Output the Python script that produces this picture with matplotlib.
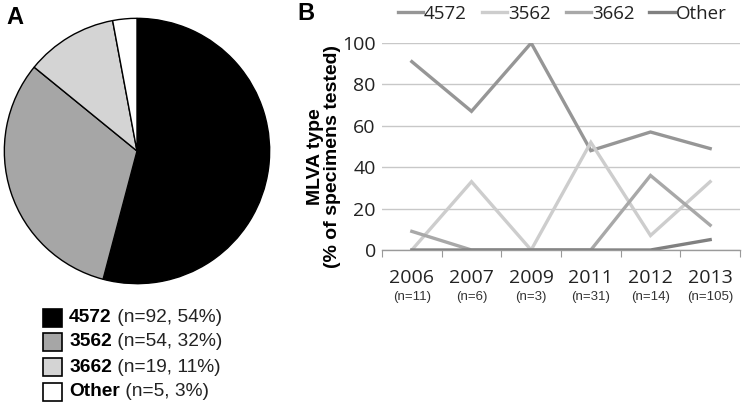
import matplotlib
matplotlib.use("Agg")
import matplotlib.pyplot as plt
from matplotlib.patches import Rectangle

# panel A data
types = ["4572", "3562", "3662", "Other"]
counts = [92, 54, 19, 5]
shares = [54, 32, 11, 3]
pie_colors = ["#000000", "#a6a6a6", "#d4d4d4", "#ffffff"]

# panel B data
years = ["2006", "2007", "2009", "2011", "2012", "2013"]
n_tested = [11, 6, 3, 31, 14, 105]
pct_4572 = [91, 67, 100, 48, 57, 49]
pct_3562 = [0, 33, 0, 52, 7, 33]
pct_3662 = [9, 0, 0, 0, 36, 12]
pct_other = [0, 0, 0, 0, 0, 5]
line_colors = ["#969696", "#cdcdcd", "#a8a8a8", "#808080"]

W, H = 742, 408
fig = plt.figure(figsize=(W / 100, H / 100), dpi=100)


def box(l, t, w, h):
    return [l / W, 1 - (t + h) / H, w / W, h / H]


# ---- A: pie ----
ax1 = fig.add_axes(box(3, 17, 268, 268))
ax1.pie(counts, colors=pie_colors, startangle=90, counterclock=False,
        wedgeprops=dict(edgecolor="black", linewidth=1.0))
ax1.set_xlim(-1.01, 1.01)
ax1.set_ylim(-1.01, 1.01)
ax1.set_aspect("equal")
fig.text(15 / W, 1 - 17 / H, "A", fontsize=17, fontweight="bold",
         family="Liberation Sans", ha="center", va="center")

leg_y = [318, 342, 367, 392]
for t, c, s, col, y in zip(types, counts, shares, pie_colors, leg_y):
    fig.patches.append(Rectangle((43 / W, 1 - (y + 9) / H), 19 / W, 18 / H,
                                 transform=fig.transFigure, facecolor=col,
                                 edgecolor="black", linewidth=1.2))
    tb = fig.text(69 / W, 1 - y / H, t, fontsize=13.8, fontweight="bold",
                  family="Liberation Sans", va="center", ha="left")
    fig.add_artist(plt.Annotation(f" (n={c}, {s}%)", xy=(1, 0.5), xycoords=tb,
                                  va="center", ha="left", fontsize=13.8,
                                  family="Liberation Sans", color="#222222"))

# ---- B: lines ----
ax2 = fig.add_axes(box(382, 43, 358, 207))
x = list(range(len(years)))
for vals, col, lab in zip([pct_4572, pct_3562, pct_3662, pct_other],
                          line_colors, types):
    ax2.plot(x, vals, color=col, linewidth=2.4, label=lab,
             solid_joinstyle="miter")
ax2.set_xlim(-0.5, len(years) - 0.5)
ax2.set_ylim(0, 100)
ax2.set_yticks(range(0, 101, 20))
ax2.yaxis.grid(True, color="#c8c8c8", linewidth=1)
ax2.set_axisbelow(True)
for sp in ["top", "right", "left"]:
    ax2.spines[sp].set_visible(False)
ax2.spines["bottom"].set_color("#9a9a9a")
ax2.spines["bottom"].set_linewidth(1)
ax2.tick_params(axis="y", length=0, labelsize=14, pad=4.5, labelcolor="#222222")
for lbl in ax2.get_yticklabels():
    lbl.set_family("Open Sans")
ax2.set_xticks([i - 0.5 for i in range(len(years) + 1)])
ax2.set_xticklabels([])
ax2.tick_params(axis="x", direction="out", length=5, color="#9a9a9a")

trans = ax2.get_xaxis_transform()
for i, (yr, n) in enumerate(zip(years, n_tested)):
    ax2.text(i, -28 / 207, yr, transform=trans, ha="center", va="center",
             fontsize=14, family="Open Sans", color="#222222")
    ax2.text(i, -47 / 207, f"(n={n})", transform=trans, ha="center",
             va="center", fontsize=9.5, family="Liberation Sans",
             color="#333333")

fig.text(324 / W, 1 - 157 / H, "MLVA type\n(% of specimens tested)",
         rotation=90, ha="center", va="center", fontsize=14,
         fontweight="bold", family="Liberation Sans", linespacing=0.95)
fig.text(306 / W, 1 - 14 / H, "B", fontsize=17, fontweight="bold",
         family="Liberation Sans", ha="center", va="center")

fig.legend(loc="center", bbox_to_anchor=(562 / W, 1 - 14 / H), ncol=4,
           frameon=False, handlelength=1.35, handletextpad=0.05,
           columnspacing=0.8, prop={"family": "Open Sans", "size": 13.5},
           labelcolor="#222222", borderpad=0)

fig.savefig("out.png", dpi=100)
